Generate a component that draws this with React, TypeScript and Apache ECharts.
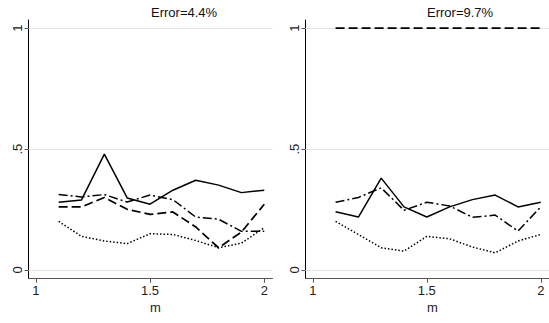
import React, { useEffect, useRef } from "react";
import * as echarts from "echarts";

const mValues = [1.1, 1.2, 1.3, 1.4, 1.5, 1.6, 1.7, 1.8, 1.9, 2.0];
const xTicks = [1, 1.5, 2];
const yTicks = [0, 0.5, 1];
const titles = ["Error=4.4%", "Error=9.7%"];

const solidL = [0.28, 0.29, 0.479, 0.298, 0.272, 0.33, 0.371, 0.351, 0.32, 0.33];
const dashL = [0.261, 0.261, 0.3, 0.251, 0.23, 0.24, 0.178, 0.092, 0.157, 0.272];
const dashDotL = [0.312, 0.302, 0.312, 0.281, 0.31, 0.291, 0.219, 0.21, 0.16, 0.16];
const dotL = [0.201, 0.139, 0.12, 0.109, 0.15, 0.147, 0.122, 0.092, 0.111, 0.175];

const solidR = [0.241, 0.219, 0.38, 0.261, 0.219, 0.261, 0.291, 0.31, 0.261, 0.28];
const dashR = [1, 1, 1, 1, 1, 1, 1, 1, 1, 1];
const dashDotR = [0.28, 0.3, 0.34, 0.247, 0.28, 0.265, 0.218, 0.227, 0.161, 0.261];
const dotR = [0.201, 0.147, 0.092, 0.078, 0.139, 0.129, 0.095, 0.071, 0.12, 0.147];

const FONT = "Liberation Sans, Arial, sans-serif";

export default function App() {
  const ref = useRef<HTMLDivElement>(null);
  useEffect(() => {
    if (!ref.current) return;
    const chart = echarts.init(ref.current, undefined, { renderer: "svg" });
    const pair = (ys: number[]) => mValues.map((m, i) => [m, ys[i]]);
    const styles: any[] = [
      { type: "solid" },
      { type: [9, 4] },
      { type: [9, 3, 2, 3] },
      { type: [1.5, 2] },
    ];
    const panels = [
      [solidL, dashL, dashDotL, dotL],
      [solidR, dashR, dashDotR, dotR],
    ];
    const grids = [
      { left: 28.5, top: 20, width: 244, height: 258.7 },
      { left: 305.5, top: 20, width: 244, height: 258.7 },
    ];
    const xAxes = grids.map((_, gi) => ({
      type: "value",
      gridIndex: gi,
      min: 0.968,
      max: 2.036,
      splitLine: { show: false },
      axisLine: { show: true, onZero: false, lineStyle: { color: "#555", width: 1 } },
      axisTick: { show: true, customValues: xTicks, length: 4, lineStyle: { color: "#555" } },
      axisLabel: {
        customValues: xTicks,
        color: "#222",
        fontSize: 13,
        fontFamily: FONT,
        margin: 5,
        formatter: (v: number) => String(v),
      },
    }));
    const yAxes = grids.map((_, gi) => ({
      type: "value",
      gridIndex: gi,
      min: -0.036,
      max: 1.034,
      splitLine: { show: false },
      axisLine: { show: true, onZero: false, lineStyle: { color: "#000", width: 1 } },
      axisTick: { show: true, customValues: yTicks, length: 4, lineStyle: { color: "#555" } },
      axisLabel: {
        customValues: yTicks,
        rotate: 90,
        color: "#222",
        fontSize: 13,
        fontFamily: FONT,
        margin: 5,
        formatter: (v: number) => (v === 0 ? "0" : v === 0.5 ? ".5" : "1"),
      },
    }));
    const series: any[] = [];
    panels.forEach((lines, gi) => {
      series.push({
        type: "line",
        xAxisIndex: gi,
        yAxisIndex: gi,
        data: [],
        silent: true,
        markLine: {
          silent: true,
          z: 1,
          symbol: "none",
          label: { show: false },
          lineStyle: { color: "#e3e3e3", type: "solid", width: 1 },
          data: yTicks.map((v) => ({ yAxis: v })),
        },
        z: 1,
      });
      lines.forEach((ys, li) => {
        series.push({
          type: "line",
          xAxisIndex: gi,
          yAxisIndex: gi,
          data: pair(ys),
          showSymbol: false,
          symbol: "none",
          lineStyle: { color: "#000", width: li === 1 ? 1.7 : 1.5, ...styles[li] },
          z: 6,
        });
      });
    });
    chart.setOption({
      animation: false,
      backgroundColor: "#fff",
      grid: grids,
      xAxis: xAxes,
      yAxis: yAxes,
      series,
      graphic: [
        { type: "text", left: 151, top: 6, style: { text: titles[0], fontSize: 13, fontFamily: FONT, fill: "#111" } },
        { type: "text", left: 427, top: 6, style: { text: titles[1], fontSize: 13, fontFamily: FONT, fill: "#111" } },
        { type: "text", left: 150, top: 301, style: { text: "m", fontSize: 13, fontFamily: FONT, fill: "#222" } },
        { type: "text", left: 427, top: 301, style: { text: "m", fontSize: 13, fontFamily: FONT, fill: "#222" } },
      ],
    });
    return () => chart.dispose();
  }, []);
  return (
    <div
      ref={ref}
      style={{ position: "absolute", left: 0, top: 0, width: 549, height: 323, background: "#fff" }}
    />
  );
}
